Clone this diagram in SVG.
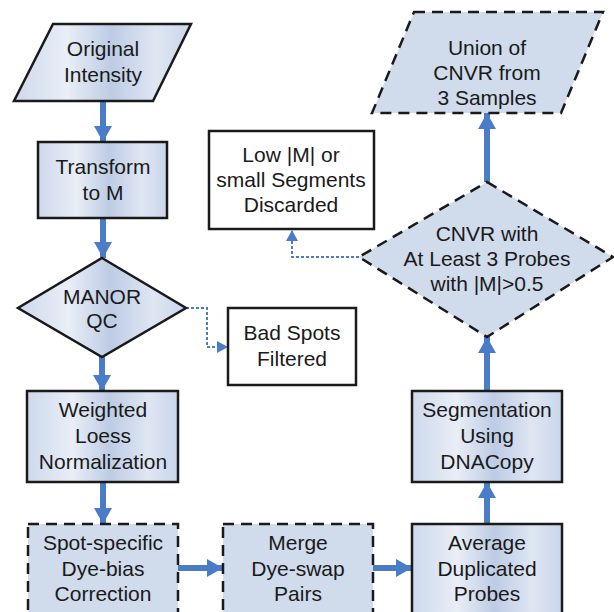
<svg xmlns="http://www.w3.org/2000/svg" width="614" height="612" viewBox="0 0 614 612">
<defs>
<linearGradient id="g" x1="0" y1="0" x2="1" y2="0">
<stop offset="0" stop-color="#cdd9ec"/>
<stop offset="0.3" stop-color="#e9eef7"/>
<stop offset="0.55" stop-color="#bdcce4"/>
<stop offset="0.8" stop-color="#dfe6f3"/>
<stop offset="1" stop-color="#c9d6ea"/>
</linearGradient>
<marker id="ah" markerUnits="userSpaceOnUse" markerWidth="18" markerHeight="18" refX="16" refY="9" orient="auto">
<path d="M0,0 L16,9 L0,18 Z" fill="#4a7cc7"/>
</marker>
<marker id="ahs" markerUnits="userSpaceOnUse" markerWidth="12" markerHeight="12" refX="11" refY="6" orient="auto">
<path d="M0,0 L11,6 L0,12 Z" fill="#4a7cc7"/>
</marker>
</defs>
<style>
.solid{fill:url(#g);stroke:#1a1a1a;stroke-width:2.5}
.dash{fill:#d0dbec;stroke:#1a1a1a;stroke-width:2.5;stroke-dasharray:11 7}
.plain{fill:#ffffff;stroke:#1a1a1a;stroke-width:2.5}
text{font-family:"Liberation Sans",Arial,sans-serif;font-size:21px;fill:#1a1a1a;text-anchor:middle}
.arr{stroke:#4a7cc7;stroke-width:6;fill:none;marker-end:url(#ah)}
.dot{stroke:#4a7cc7;stroke-width:2;stroke-dasharray:3 2;fill:none;marker-end:url(#ahs)}
</style>
<g id="connectors">
<path class="arr" d="M103,101 V142"/>
<path class="arr" d="M103,218 V258"/>
<path class="arr" d="M102,357 V391"/>
<path class="arr" d="M103,482 V524"/>
<path class="arr" d="M178,568 H223"/>
<path class="arr" d="M373,568 H412"/>
<path class="arr" d="M487,524 V482"/>
<path class="arr" d="M487,391 V337"/>
<path class="arr" d="M487,182 V113"/>
<path class="dot" d="M186,308 H207 V347 H228"/>
<path class="dot" d="M359,257 H292 V230"/>
</g>
<g id="original">
<polygon class="solid" points="53,24 191,24 153,101 14,101"/>
<text x="103" y="56">Original</text>
<text x="103" y="82">Intensity</text>
</g>
<g id="transform">
<rect class="solid" x="38" y="142" width="129" height="76"/>
<text x="103" y="174">Transform</text>
<text x="103" y="200">to M</text>
</g>
<g id="manor">
<polygon class="solid" points="102,258 186,308 102,357 18,308"/>
<text x="102" y="304">MANOR</text>
<text x="102" y="328">QC</text>
</g>
<g id="badspots">
<rect class="plain" x="228" y="308" width="128" height="77"/>
<text x="292" y="340">Bad Spots</text>
<text x="292" y="366">Filtered</text>
</g>
<g id="weighted">
<rect class="solid" x="27" y="391" width="151" height="91"/>
<text x="103" y="417">Weighted</text>
<text x="103" y="443">Loess</text>
<text x="103" y="469">Normalization</text>
</g>
<g id="spot">
<rect class="dash" x="28" y="524" width="150" height="100"/>
<text x="103" y="550">Spot-specific</text>
<text x="103" y="576">Dye-bias</text>
<text x="103" y="601">Correction</text>
</g>
<g id="merge">
<rect class="dash" x="223" y="524" width="150" height="100"/>
<text x="298" y="550">Merge</text>
<text x="298" y="576">Dye-swap</text>
<text x="298" y="601">Pairs</text>
</g>
<g id="average">
<rect class="solid" x="412" y="524" width="150" height="100"/>
<text x="487" y="550">Average</text>
<text x="487" y="576">Duplicated</text>
<text x="487" y="601">Probes</text>
</g>
<g id="segmentation">
<rect class="solid" x="412" y="391" width="150" height="91"/>
<text x="487" y="417">Segmentation</text>
<text x="487" y="443">Using</text>
<text x="487" y="469">DNACopy</text>
</g>
<g id="cnvr">
<polygon class="dash" points="487,182 613,257 487,337 359,257"/>
<text x="487" y="241">CNVR with</text>
<text x="487" y="266">At Least 3 Probes</text>
<text x="487" y="291">with |M|&gt;0.5</text>
</g>
<g id="union">
<polygon class="dash" points="414,12 603,12 561,113 372,113"/>
<text x="487" y="55">Union of</text>
<text x="487" y="80">CNVR from</text>
<text x="487" y="105">3 Samples</text>
</g>
<g id="lowm">
<rect class="plain" x="209" y="131" width="165" height="98"/>
<text x="291" y="162">Low |M| or</text>
<text x="291" y="187">small Segments</text>
<text x="291" y="212">Discarded</text>
</g>
</svg>
